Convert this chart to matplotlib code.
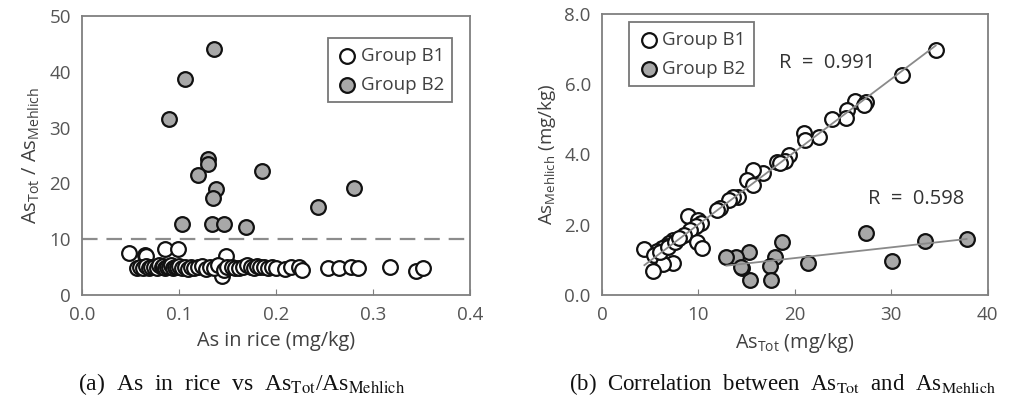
import matplotlib
matplotlib.use("Agg")
import matplotlib.pyplot as plt
import numpy as np

plt.rcParams['font.family'] = ['Open Sans', 'DejaVu Sans']
plt.rcParams['mathtext.fontset'] = 'custom'
plt.rcParams['mathtext.rm'] = 'Open Sans'

# (a) As in rice vs AsTot/AsMehlich
rice_b1 = [0.048, 0.065, 0.066, 0.086, 0.099, 0.149, 0.144,
           0.057, 0.060, 0.063, 0.066, 0.069, 0.071, 0.074, 0.077, 0.079, 0.082,
           0.084, 0.086, 0.088, 0.090, 0.092, 0.094, 0.096, 0.098, 0.100, 0.103,
           0.106, 0.109, 0.112, 0.116, 0.120, 0.124, 0.128, 0.132, 0.136, 0.140,
           0.146, 0.150, 0.155, 0.158, 0.162, 0.166, 0.170, 0.174, 0.177, 0.180,
           0.184, 0.188, 0.192, 0.196, 0.200, 0.209, 0.216, 0.224, 0.227,
           0.254, 0.265, 0.277, 0.285, 0.318, 0.344, 0.352]
ratio_b1 = [7.6, 7.2, 6.9, 8.2, 8.2, 6.9, 3.4,
            4.8, 5.0, 4.9, 5.2, 4.8, 5.1, 5.0, 4.9, 5.3, 5.0,
            5.2, 4.9, 5.1, 5.0, 5.3, 4.8, 5.1, 5.0, 5.2, 4.9,
            5.0, 4.7, 5.1, 4.8, 5.0, 5.2, 4.7, 5.1, 4.9, 5.3,
            4.4, 5.0, 5.1, 4.8, 4.9, 5.0, 5.3, 5.1, 4.9, 5.2,
            5.0, 5.1, 4.9, 5.0, 4.8, 4.6, 5.1, 5.1, 4.5,
            4.9, 4.9, 5.1, 4.9, 5.1, 4.3, 4.9]
rice_b2 = [0.136, 0.1065, 0.090, 0.130, 0.130, 0.1196, 0.186, 0.138,
           0.135, 0.103, 0.134, 0.1467, 0.169, 0.243, 0.280]
ratio_b2 = [44.0, 38.7, 31.5, 24.3, 23.4, 21.5, 22.2, 18.9,
            17.4, 12.8, 12.8, 12.8, 12.2, 15.8, 19.1]
threshold = 10

# (b) AsTot vs AsMehlich
tot_b1 = [34.6, 31.06, 26.2, 27.4, 27.2, 25.4, 25.3, 23.8, 22.5, 20.9, 21.0,
          19.35, 19.0, 18.1, 18.5, 16.7, 15.7, 15.0, 15.7, 14.1, 13.6, 13.2,
          12.2, 11.95, 8.95, 10.0, 10.3, 9.8, 9.1, 8.5, 9.9, 10.4, 7.4, 7.0,
          6.6, 6.2, 5.7, 4.4, 5.4, 7.4, 6.35, 5.3, 6.0, 6.8, 7.6, 8.0]
meh_b1 = [6.98, 6.25, 5.52, 5.49, 5.41, 5.27, 5.05, 5.0, 4.49, 4.6, 4.41,
          3.99, 3.81, 3.78, 3.75, 3.46, 3.56, 3.27, 3.13, 2.80, 2.78, 2.70,
          2.47, 2.42, 2.25, 2.12, 2.05, 1.95, 1.85, 1.71, 1.52, 1.33, 1.57, 1.47,
          1.40, 1.33, 1.26, 1.30, 1.14, 0.90, 0.88, 0.69, 1.22, 1.36, 1.50, 1.62]
tot_b2 = [27.4, 33.5, 37.8, 30.1, 21.4, 18.7, 17.9, 17.4, 17.5, 15.2, 15.3,
          14.5, 13.9, 12.9, 14.4]
meh_b2 = [1.76, 1.54, 1.59, 0.97, 0.92, 1.51, 1.07, 0.83, 0.43, 1.21, 0.43,
          0.76, 1.09, 1.09, 0.80]
r_b1 = 0.991
r_b2 = 0.598

fig = plt.figure(figsize=(10.1, 4.08), dpi=100)
ax1 = fig.add_axes([0.0812, 0.277, 0.384, 0.684])
ax2 = fig.add_axes([0.596, 0.277, 0.382, 0.689])

tick_col = '#555555'
lab_col = '#404040'
spine_col = '#7f7f7f'
fill_b2 = '#a8a8a8'
ms = 112

for ax in (ax1, ax2):
    for s in ax.spines.values():
        s.set_color(spine_col)
        s.set_linewidth(1.3)
    ax.tick_params(axis='x', direction='in', length=4, color=spine_col,
                   labelsize=13.5, labelcolor=tick_col, pad=8)
    ax.tick_params(axis='y', length=0, labelsize=13.5, labelcolor=tick_col, pad=8)

# left
ax1.axhline(threshold, color='#8c8c8c', lw=1.6, dashes=(7, 4), zorder=1)
ax1.scatter(rice_b1, ratio_b1, s=ms, facecolors='white', edgecolors='#111111',
            linewidths=1.6, label='Group B1', zorder=2)
ax1.scatter(rice_b2, ratio_b2, s=ms, facecolors=fill_b2, edgecolors='#111111',
            linewidths=1.6, label='Group B2', zorder=3)
ax1.set_xlim(0, 0.4)
ax1.set_ylim(0, 50)
ax1.set_xticks([0.0, 0.1, 0.2, 0.3, 0.4])
ax1.set_xticklabels(['0.0', '0.1', '0.2', '0.3', '0.4'])
ax1.set_yticks([0, 10, 20, 30, 40, 50])
ax1.set_xlabel('As in rice (mg/kg)', fontsize=14.3, color=lab_col, labelpad=5)
ax1.set_ylabel(r'As$_{\rm Tot}$ / As$_{\rm Mehlich}$', fontsize=14.5, color=lab_col, labelpad=5)
leg1 = ax1.legend(loc='upper right', bbox_to_anchor=(0.955, 0.92), fontsize=13.5,
                  frameon=True, fancybox=False, handletextpad=0.1,
                  borderpad=0.45, labelspacing=0.6, handlelength=1.2,
                  borderaxespad=0)
leg1.get_frame().set_edgecolor('#555555')
leg1.get_frame().set_linewidth(1.3)
for t in leg1.get_texts():
    t.set_color(lab_col)

# right
ax2.scatter(tot_b1, meh_b1, s=ms, facecolors='white', edgecolors='#111111',
            linewidths=1.6, label='Group B1', zorder=2)
ax2.scatter(tot_b2, meh_b2, s=ms, facecolors=fill_b2, edgecolors='#111111',
            linewidths=1.6, label='Group B2', zorder=3)
for xs, ys in ((tot_b1, meh_b1), (tot_b2, meh_b2)):
    k, b = np.polyfit(xs, ys, 1)
    xx = np.array([min(xs), max(xs)])
    ax2.plot(xx, k * xx + b, color='#8a8a8a', lw=1.3, zorder=4)
ax2.text(23.3, 6.6, 'R  =  %.3f' % r_b1, fontsize=14.5, color='#333333',
         ha='center', va='center')
ax2.text(32.6, 2.72, 'R  =  %.3f' % r_b2, fontsize=14.5, color='#333333',
         ha='center', va='center')
ax2.set_xlim(0, 40)
ax2.set_ylim(0, 8)
ax2.set_xticks([0, 10, 20, 30, 40])
ax2.set_yticks([0, 2, 4, 6, 8])
ax2.set_yticklabels(['0.0', '2.0', '4.0', '6.0', '8.0'])
ax2.set_xlabel(r'As$_{\rm Tot}$ (mg/kg)', fontsize=14.3, color=lab_col, labelpad=5)
ax2.set_ylabel(r'As$_{\rm Mehlich}$ (mg/kg)', fontsize=13.5, color=lab_col, labelpad=5)
leg2 = ax2.legend(loc='upper left', bbox_to_anchor=(0.07, 0.97), fontsize=13.5,
                  frameon=True, fancybox=False, handletextpad=0.1,
                  borderpad=0.45, labelspacing=0.6, handlelength=1.2,
                  borderaxespad=0)
leg2.get_frame().set_edgecolor('#555555')
leg2.get_frame().set_linewidth(1.3)
for t in leg2.get_texts():
    t.set_color(lab_col)

# captions
fig.text(0.239, 0.058, r'(a)  As  in  rice  vs  As$_{\rm Tot}$/As$_{\rm Mehlich}$',
         fontsize=17, family='Liberation Serif', math_fontfamily='stix',
         ha='center', va='center', color='#111111')
fig.text(0.775, 0.058, r'(b)  Correlation  between  As$_{\rm Tot}$  and  As$_{\rm Mehlich}$',
         fontsize=16.5, family='Liberation Serif', math_fontfamily='stix',
         ha='center', va='center', color='#111111')

fig.savefig('out.png', dpi=100)
